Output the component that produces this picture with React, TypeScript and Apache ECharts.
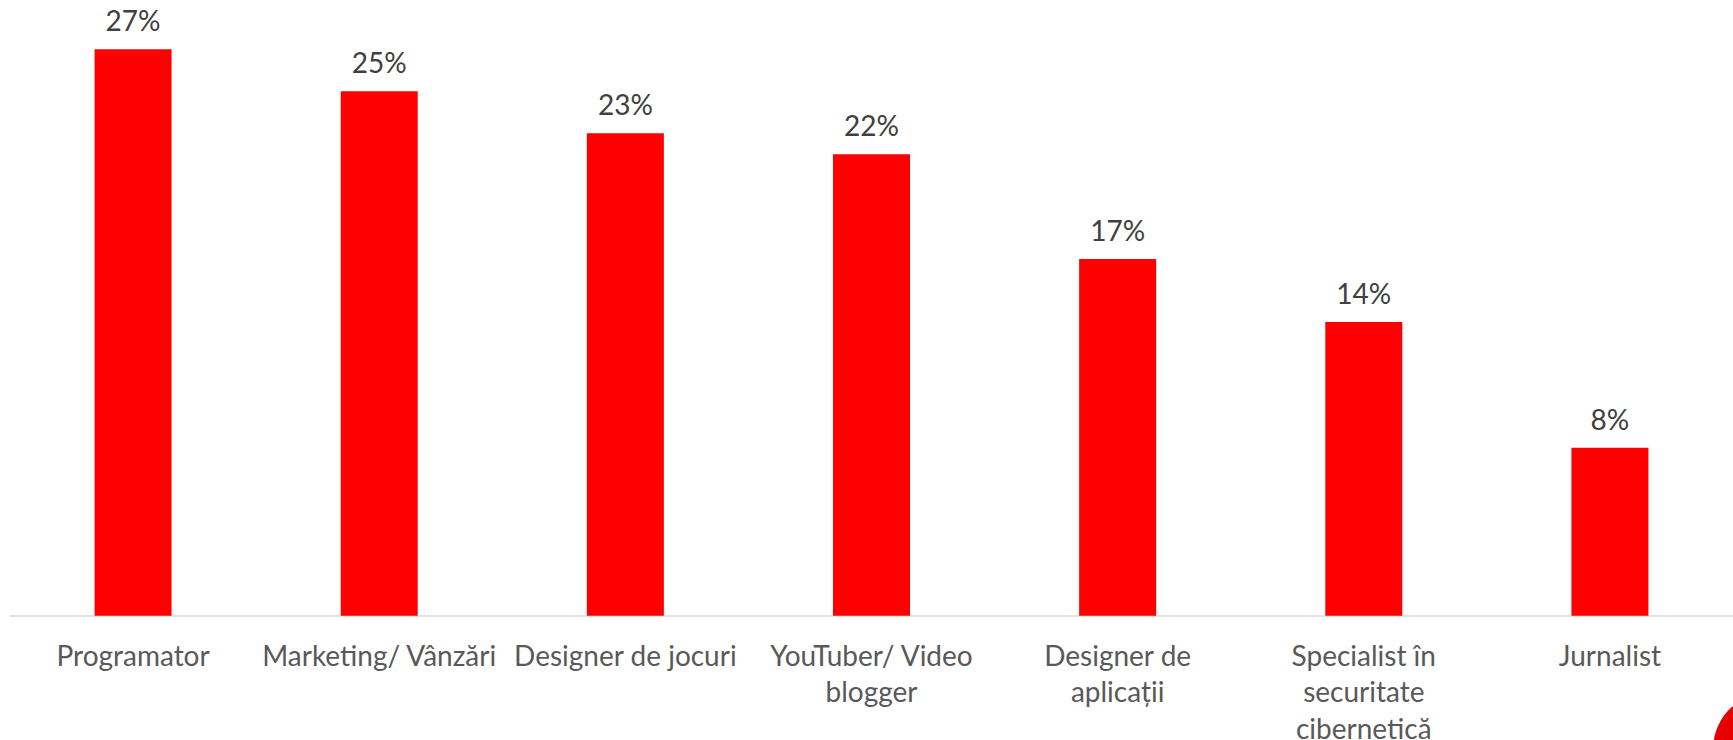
import React, { useEffect, useRef } from "react";
import * as echarts from "echarts";

const categories: string[] = [
  "Programator",
  "Marketing/ Vânzări",
  "Designer de jocuri",
  "YouTuber/ Video\nblogger",
  "Designer de\naplicații",
  "Specialist în\nsecuritate\ncibernetică",
  "Jurnalist",
];
const values: number[] = [27, 25, 23, 22, 17, 14, 8];

export default function App() {
  const ref = useRef<HTMLDivElement>(null);
  useEffect(() => {
    document.body.style.margin = "0";
    if (!ref.current) return;
    const chart = echarts.init(ref.current, undefined, { renderer: "svg" });
    chart.setOption({
      animation: false,
      backgroundColor: "#ffffff",
      grid: {
        left: 10,
        right: 0,
        top: 28.3,
        bottom: 124.3,
        containLabel: false,
        outerBoundsMode: "none",
      },
      xAxis: {
        type: "category",
        data: categories,
        axisLine: { show: true, lineStyle: { color: "#D9D9D9", width: 1.5 } },
        axisTick: { show: false },
        axisLabel: {
          interval: 0,
          margin: 21,
          color: "#595959",
          fontFamily: "Lato",
          fontSize: 28,
          lineHeight: 36.5,
        },
      },
      yAxis: {
        type: "value",
        min: 0,
        max: 28,
        show: false,
        splitLine: { show: false },
      },
      series: [
        {
          type: "bar",
          data: values,
          barWidth: 77,
          itemStyle: { color: "#FF0000" },
          label: {
            show: true,
            position: "top",
            distance: 15,
            formatter: "{c}%",
            color: "#404040",
            fontFamily: "Lato",
            fontSize: 28,
          },
        },
      ],
      graphic: [
        {
          type: "circle",
          shape: { cx: 1768, cy: 748, r: 54.7 },
          style: { fill: "#E60000" },
          silent: true,
        },
      ],
    });
    return () => chart.dispose();
  }, []);
  return <div ref={ref} style={{ width: 1733, height: 740 }} />;
}
